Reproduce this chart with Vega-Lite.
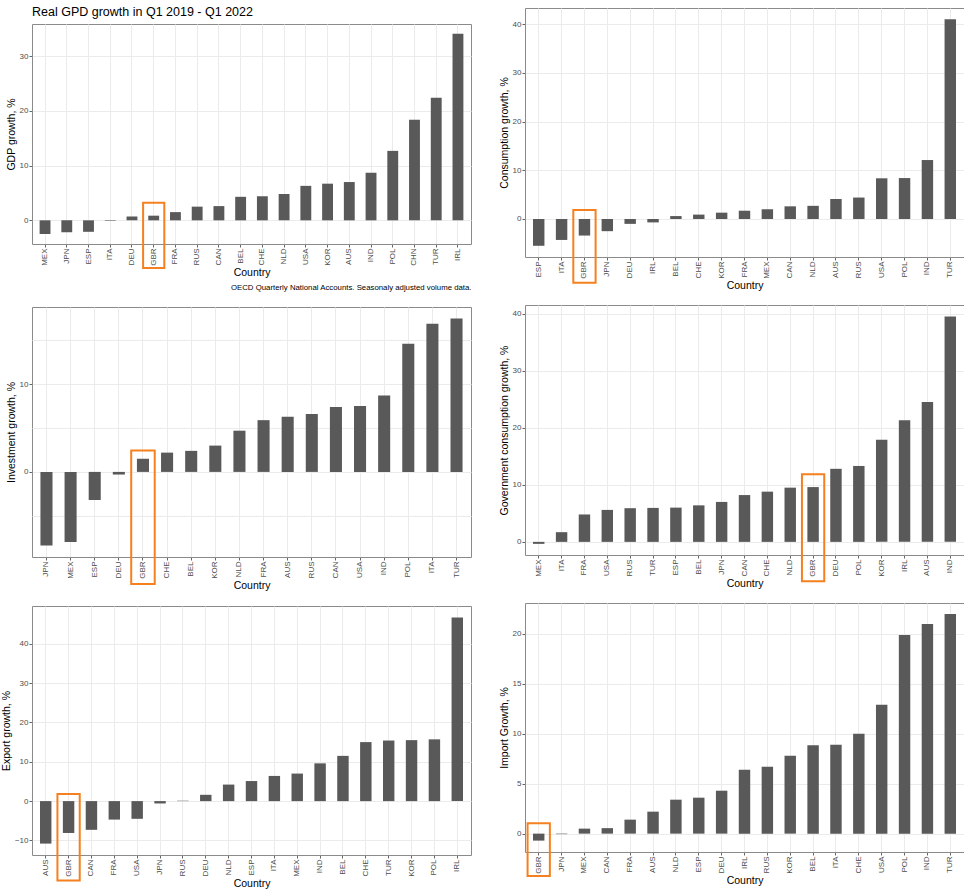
{
  "$schema": "https://vega.github.io/schema/vega-lite/v6.json",
  "padding": {"left": 0, "top": 5, "right": 0, "bottom": 0},
  "background": "white",
  "datasets": {
    "d": [
      {"country": "MEX", "gdp": -2.5, "cons": 2.0, "inv": -8.0, "gov": -0.35, "exp": 7.0, "imp": 0.5},
      {"country": "JPN", "gdp": -2.2, "cons": -2.5, "inv": -8.4, "gov": 7.0, "exp": -0.6, "imp": -0.05},
      {"country": "ESP", "gdp": -2.1, "cons": -5.5, "inv": -3.2, "gov": 6.0, "exp": 5.1, "imp": 3.6},
      {"country": "ITA", "gdp": -0.1, "cons": -4.3, "inv": 16.9, "gov": 1.7, "exp": 6.4, "imp": 8.9},
      {"country": "DEU", "gdp": 0.7, "cons": -1.0, "inv": -0.3, "gov": 12.8, "exp": 1.6, "imp": 4.3},
      {"country": "GBR", "gdp": 0.85, "cons": -3.4, "inv": 1.5, "gov": 9.6, "exp": -8.1, "imp": -0.7},
      {"country": "FRA", "gdp": 1.5, "cons": 1.7, "inv": 5.9, "gov": 4.8, "exp": -4.7, "imp": 1.4},
      {"country": "RUS", "gdp": 2.5, "cons": 4.4, "inv": 6.6, "gov": 5.9, "exp": 0.1, "imp": 6.7},
      {"country": "CAN", "gdp": 2.6, "cons": 2.6, "inv": 7.4, "gov": 8.2, "exp": -7.3, "imp": 0.55},
      {"country": "BEL", "gdp": 4.3, "cons": 0.6, "inv": 2.4, "gov": 6.4, "exp": 11.5, "imp": 8.85},
      {"country": "CHE", "gdp": 4.4, "cons": 0.9, "inv": 2.2, "gov": 8.8, "exp": 15.0, "imp": 10.0},
      {"country": "NLD", "gdp": 4.8, "cons": 2.7, "inv": 4.7, "gov": 9.5, "exp": 4.2, "imp": 3.4},
      {"country": "USA", "gdp": 6.3, "cons": 8.35, "inv": 7.5, "gov": 5.6, "exp": -4.5, "imp": 12.9},
      {"country": "KOR", "gdp": 6.7, "cons": 1.3, "inv": 3.0, "gov": 17.9, "exp": 15.5, "imp": 7.8},
      {"country": "AUS", "gdp": 7.0, "cons": 4.1, "inv": 6.3, "gov": 24.5, "exp": -10.8, "imp": 2.2},
      {"country": "IND", "gdp": 8.7, "cons": 12.1, "inv": 8.7, "gov": 39.5, "exp": 9.6, "imp": 21.0},
      {"country": "POL", "gdp": 12.7, "cons": 8.4, "inv": 14.6, "gov": 13.3, "exp": 15.7, "imp": 19.9},
      {"country": "CHN", "gdp": 18.4, "cons": null, "inv": null, "gov": null, "exp": null, "imp": null},
      {"country": "TUR", "gdp": 22.4, "cons": 41.0, "inv": 17.5, "gov": 5.95, "exp": 15.4, "imp": 22.0},
      {"country": "IRL", "gdp": 34.1, "cons": -0.7, "inv": null, "gov": 21.3, "exp": 46.7, "imp": 6.4}
    ]
  },
  "data": {"name": "d"},
  "spacing": 26,
  "hconcat": [
    {
      "name": "colL",
      "spacing": 13,
      "vconcat": [
        {
          "name": "w1",
          "bounds": "flush",
          "spacing": 15,
          "vconcat": [
            {
              "name": "spacer",
              "width": 439,
              "height": 1,
              "data": {"values": [{"k": 1}]},
              "mark": {"type": "point", "opacity": 0},
              "encoding": {},
              "view": {"stroke": null},
              "title": {"text": "Real GPD growth in Q1 2019 - Q1 2022", "orient": "bottom", "anchor": "start", "frame": "group", "fontSize": 12.5, "fontWeight": "normal", "color": "#000000", "offset": -5, "font": "Liberation Sans"}
            },
            {
              "name": "p1",
              "width": 439,
              "height": 220,
              "layer": [
                {
                  "transform": [{"filter": "isValid(datum.gdp)"}],
                  "mark": {"type": "bar", "color": "#595959"},
                  "encoding": {
                    "x": {"field": "country", "type": "nominal", "title": "Country",
                      "scale": {"domain": ["MEX","JPN","ESP","ITA","DEU","GBR","FRA","RUS","CAN","BEL","CHE","NLD","USA","KOR","AUS","IND","POL","CHN","TUR","IRL"], "paddingInner": 0.5, "paddingOuter": 0.35}},
                    "y": {"field": "gdp", "type": "quantitative", "title": "GDP growth, %",
                      "scale": {"domain": [-4.33, 35.9], "nice": false, "zero": false},
                      "axis": {"values": [0, 5, 10, 15, 20, 25, 30, 35], "labelExpr": "datum.value % 10 === 0 ? datum.label : ''",
                        "tickOpacity": {"condition": {"test": "datum.value % 10 === 0", "value": 1}, "value": 0}}}
                  }
                },
                {
                  "transform": [{"filter": "datum.country === 'GBR'"}],
                  "mark": {"type": "bar", "filled": false, "color": "#F5801F", "strokeWidth": 2, "width": {"band": 1.95}},
                  "encoding": {
                    "x": {"field": "country", "type": "nominal"},
                    "y": {"datum": 3.2, "type": "quantitative"},
                    "y2": {"datum": -8.7}
                  }
                }
              ]
            }
          ],
          "title": {"text": "OECD Quarterly National Accounts. Seasonaly adjusted volume data.", "orient": "bottom", "anchor": "end", "frame": "bounds", "fontSize": 7.8, "fontWeight": "normal", "color": "#000000", "offset": 6, "font": "Liberation Sans"}
        },
        {
          "name": "p3",
          "width": 439,
          "height": 250,
          "layer": [
            {
              "transform": [{"filter": "isValid(datum.inv)"}],
              "mark": {"type": "bar", "color": "#595959"},
              "encoding": {
                "x": {"field": "country", "type": "nominal", "title": "Country",
                  "scale": {"domain": ["JPN","MEX","ESP","DEU","GBR","CHE","BEL","KOR","NLD","FRA","AUS","RUS","CAN","USA","IND","POL","ITA","TUR"], "paddingInner": 0.5, "paddingOuter": 0.35}},
                "y": {"field": "inv", "type": "quantitative", "title": "Investment growth, %",
                  "scale": {"domain": [-9.7, 18.8], "nice": false, "zero": false},
                  "axis": {"values": [-5, 0, 5, 10, 15], "labelExpr": "datum.value % 10 === 0 ? datum.label : ''",
                    "tickOpacity": {"condition": {"test": "datum.value % 10 === 0", "value": 1}, "value": 0}}}
              }
            },
            {
              "transform": [{"filter": "datum.country === 'GBR'"}],
              "mark": {"type": "bar", "filled": false, "color": "#F5801F", "strokeWidth": 2, "width": {"band": 1.95}},
              "encoding": {
                "x": {"field": "country", "type": "nominal"},
                "y": {"datum": 2.43, "type": "quantitative"},
                "y2": {"datum": -12.78}
              }
            }
          ]
        },
        {
          "name": "p5",
          "width": 439,
          "height": 249,
          "layer": [
            {
              "transform": [{"filter": "isValid(datum.exp)"}],
              "mark": {"type": "bar", "color": "#595959"},
              "encoding": {
                "x": {"field": "country", "type": "nominal", "title": "Country",
                  "scale": {"domain": ["AUS","GBR","CAN","FRA","USA","JPN","RUS","DEU","NLD","ESP","ITA","MEX","IND","BEL","CHE","TUR","KOR","POL","IRL"], "paddingInner": 0.5, "paddingOuter": 0.35}},
                "y": {"field": "exp", "type": "quantitative", "title": "Export growth, %",
                  "scale": {"domain": [-13.7, 49.6], "nice": false, "zero": false},
                  "axis": {"values": [-10, -5, 0, 5, 10, 15, 20, 25, 30, 35, 40, 45], "labelExpr": "datum.value % 10 === 0 ? datum.label : ''",
                    "tickOpacity": {"condition": {"test": "datum.value % 10 === 0", "value": 1}, "value": 0}}}
              }
            },
            {
              "transform": [{"filter": "datum.country === 'GBR'"}],
              "mark": {"type": "bar", "filled": false, "color": "#F5801F", "strokeWidth": 2, "width": {"band": 1.95}},
              "encoding": {
                "x": {"field": "country", "type": "nominal"},
                "y": {"datum": 1.78, "type": "quantitative"},
                "y2": {"datum": -20.2}
              }
            }
          ]
        }
      ]
    },
    {
      "name": "colR",
      "spacing": 12,
      "vconcat": [
        {
          "name": "p2",
          "width": 439,
          "height": 249,
          "layer": [
            {
              "transform": [{"filter": "isValid(datum.cons)"}],
              "mark": {"type": "bar", "color": "#595959"},
              "encoding": {
                "x": {"field": "country", "type": "nominal", "title": "Country",
                  "scale": {"domain": ["ESP","ITA","GBR","JPN","DEU","IRL","BEL","CHE","KOR","FRA","MEX","CAN","NLD","AUS","RUS","USA","POL","IND","TUR"], "paddingInner": 0.5, "paddingOuter": 0.35}},
                "y": {"field": "cons", "type": "quantitative", "title": "Consumption growth, %",
                  "scale": {"domain": [-7.8, 43.3], "nice": false, "zero": false},
                  "axis": {"values": [0, 5, 10, 15, 20, 25, 30, 35, 40], "labelExpr": "datum.value % 10 === 0 ? datum.label : ''",
                    "tickOpacity": {"condition": {"test": "datum.value % 10 === 0", "value": 1}, "value": 0}}}
              }
            },
            {
              "transform": [{"filter": "datum.country === 'GBR'"}],
              "mark": {"type": "bar", "filled": false, "color": "#F5801F", "strokeWidth": 2, "width": {"band": 1.95}},
              "encoding": {
                "x": {"field": "country", "type": "nominal"},
                "y": {"datum": 1.85, "type": "quantitative"},
                "y2": {"datum": -13.1}
              }
            }
          ]
        },
        {
          "name": "p4",
          "width": 439,
          "height": 250,
          "layer": [
            {
              "transform": [{"filter": "isValid(datum.gov)"}],
              "mark": {"type": "bar", "color": "#595959"},
              "encoding": {
                "x": {"field": "country", "type": "nominal", "title": "Country",
                  "scale": {"domain": ["MEX","ITA","FRA","USA","RUS","TUR","ESP","BEL","JPN","CAN","CHE","NLD","GBR","DEU","POL","KOR","IRL","AUS","IND"], "paddingInner": 0.5, "paddingOuter": 0.35}},
                "y": {"field": "gov", "type": "quantitative", "title": "Government consumption growth, %",
                  "scale": {"domain": [-2.3, 41.5], "nice": false, "zero": false},
                  "axis": {"values": [0, 5, 10, 15, 20, 25, 30, 35, 40], "labelExpr": "datum.value % 10 === 0 ? datum.label : ''",
                    "tickOpacity": {"condition": {"test": "datum.value % 10 === 0", "value": 1}, "value": 0}}}
              }
            },
            {
              "transform": [{"filter": "datum.country === 'GBR'"}],
              "mark": {"type": "bar", "filled": false, "color": "#F5801F", "strokeWidth": 2, "width": {"band": 1.95}},
              "encoding": {
                "x": {"field": "country", "type": "nominal"},
                "y": {"datum": 11.83, "type": "quantitative"},
                "y2": {"datum": -6.9}
              }
            }
          ]
        },
        {
          "name": "p6",
          "width": 439,
          "height": 249,
          "layer": [
            {
              "transform": [{"filter": "isValid(datum.imp)"}],
              "mark": {"type": "bar", "color": "#595959"},
              "encoding": {
                "x": {"field": "country", "type": "nominal", "title": "Country",
                  "scale": {"domain": ["GBR","JPN","MEX","CAN","FRA","AUS","NLD","ESP","DEU","IRL","RUS","KOR","BEL","ITA","CHE","USA","POL","IND","TUR"], "paddingInner": 0.5, "paddingOuter": 0.35}},
                "y": {"field": "imp", "type": "quantitative", "title": "Import Growth, %",
                  "scale": {"domain": [-1.84, 23.1], "nice": false, "zero": false},
                  "axis": {"values": [0, 2.5, 5, 7.5, 10, 12.5, 15, 17.5, 20, 22.5], "labelExpr": "datum.value % 5 === 0 ? datum.label : ''",
                    "tickOpacity": {"condition": {"test": "datum.value % 5 === 0", "value": 1}, "value": 0}}}
              }
            },
            {
              "transform": [{"filter": "datum.country === 'GBR'"}],
              "mark": {"type": "bar", "filled": false, "color": "#F5801F", "strokeWidth": 2, "width": {"band": 1.95}},
              "encoding": {
                "x": {"field": "country", "type": "nominal"},
                "y": {"datum": 1.04, "type": "quantitative"},
                "y2": {"datum": -4.25}
              }
            }
          ]
        }
      ]
    }
  ],
  "config": {
    "font": "Liberation Sans",
    "view": {"stroke": "#8a8a8a", "strokeWidth": 1},
    "axis": {
      "domain": false,
      "grid": true,
      "gridColor": "#EBEBEB",
      "gridWidth": 1,
      "tickColor": "#666666",
      "tickSize": 3,
      "labelColor": "#4D4D4D",
      "labelFontSize": 8,
      "labelFont": "Liberation Sans",
      "titleFont": "Liberation Sans",
      "titleFontSize": 10.5,
      "titleFontWeight": "normal",
      "titleColor": "#000000",
      "labelPadding": 1,
      "titlePadding": 3
    },
    "axisX": {"labelAngle": 270, "labelBaseline": "middle", "labelAlign": "right", "titlePadding": 2},
    "axisY": {"labelPadding": 1, "labelOverlap": false}
  }
}
